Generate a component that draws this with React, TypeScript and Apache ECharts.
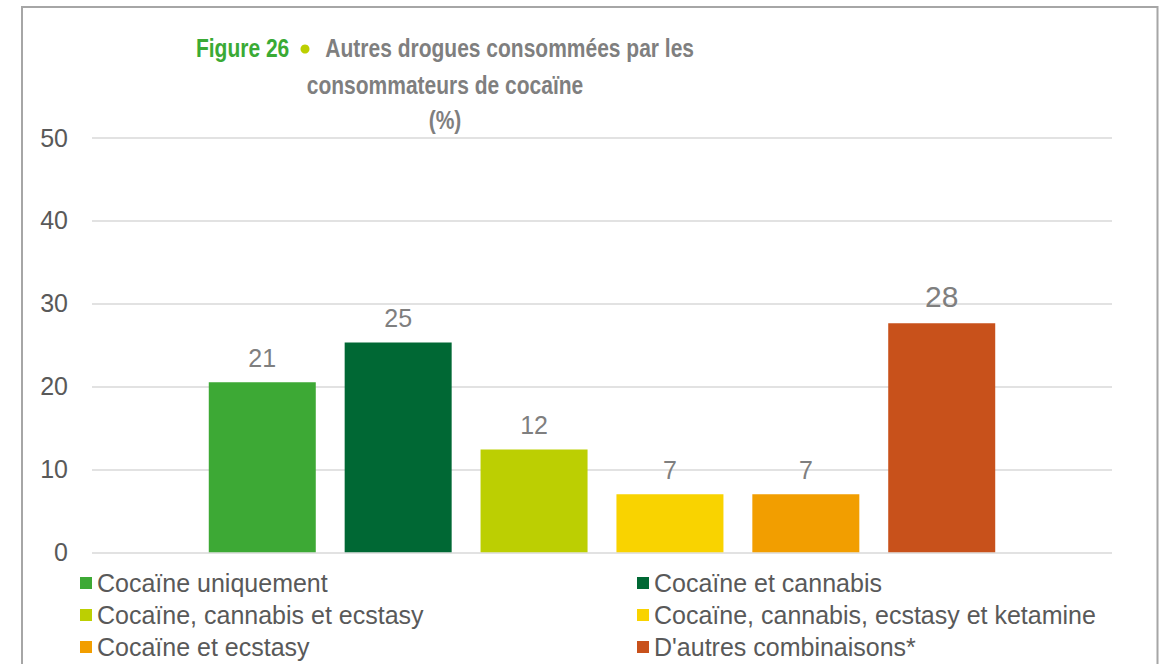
import React, { useEffect, useRef } from "react";
import * as echarts from "echarts";

const categories = [""];
const seriesNames = [
  "Cocaïne uniquement",
  "Cocaïne et cannabis",
  "Cocaïne, cannabis et ecstasy",
  "Cocaïne, cannabis, ecstasy et ketamine",
  "Cocaïne et ecstasy",
  "D'autres combinaisons*",
];
const seriesValues = [20.5, 25.3, 12.4, 7.0, 7.0, 27.6];
const seriesColors = ["#3da935", "#006834", "#bccf02", "#f9d300", "#f29e00", "#c8511b"];
const labelSizes = [25, 25, 25, 25, 25, 30];
const yMin = 0;
const yMax = 50;
const yInterval = 10;

const titleLine1Green = "Figure 26";
const titleLine1Gray = "Autres drogues consommées par les";
const titleLine2 = "consommateurs de cocaïne";
const titleLine3 = "(%)";

const FONT = "Arial, 'Liberation Sans', sans-serif";

export default function App() {
  const ref = useRef<HTMLDivElement>(null);
  useEffect(() => {
    document.body.style.margin = "0";
    if (!ref.current) return;
    const chart = echarts.init(ref.current, null, { renderer: "svg" });
    const series = seriesNames.map((name, i) => ({
      name,
      type: "bar",
      data: [seriesValues[i]],
      barWidth: 107,
      barGap: "27%",
      itemStyle: { color: seriesColors[i] },
      label: {
        show: true,
        position: "top",
        distance: 12,
        color: "#7f7f7f",
        fontSize: labelSizes[i],
        fontFamily: FONT,
        formatter: (p: any) => String(Math.round(p.value)),
      },
    }));
    const legendCols = [80, 637];
    const legendRows = [570, 602, 634];
    const legends = seriesNames.map((name, i) => ({
      orient: "horizontal",
      left: legendCols[i % 2],
      top: legendRows[Math.floor(i / 2)],
      itemWidth: 12,
      itemHeight: 12,
      icon: "rect",
      selectedMode: false,
      padding: 0,
      data: [name],
      textStyle: { fontSize: 25, color: "#595959", lineHeight: 26, fontFamily: FONT },
    }));
    const titleText = (y: number, text: string, rich?: any) => ({
      type: "text",
      x: 445,
      y,
      scaleY: 1.2,
      style: {
        text,
        align: "center",
        verticalAlign: "middle",
        fontSize: 21,
        fontWeight: "bold",
        fill: "#7f7f7f",
        fontFamily: FONT,
        rich,
      },
    });
    chart.setOption({
      animation: false,
      backgroundColor: "#ffffff",
      grid: { left: 92, right: 54, top: 137.5, bottom: 111.7, containLabel: false },
      xAxis: {
        type: "category",
        data: categories,
        axisLine: { show: false },
        axisTick: { show: false },
        axisLabel: { show: false },
      },
      yAxis: {
        type: "value",
        min: yMin,
        max: yMax,
        interval: yInterval,
        axisLine: { show: false },
        axisTick: { show: false },
        axisLabel: { color: "#595959", fontSize: 25, fontFamily: FONT, margin: 24 },
        splitLine: { lineStyle: { color: "#d9d9d9", width: 1.5 } },
      },
      legend: legends,
      series,
      graphic: [
        {
          type: "rect",
          shape: { x: 22, y: 7, width: 1135.5, height: 720 },
          style: { fill: "none", stroke: "#a6a6a6", lineWidth: 2 },
          silent: true,
        },
        titleText(48, `{g|${titleLine1Green}}{d| }{t|${titleLine1Gray}}`, {
          g: { fontSize: 21, fontWeight: "bold", fill: "#3aaa35", fontFamily: FONT },
          d: { fontSize: 21, width: 36, fontFamily: FONT },
          t: { fontSize: 21, fontWeight: "bold", fill: "#7f7f7f", fontFamily: FONT },
        }),
        {
          type: "circle",
          shape: { cx: 305, cy: 49, r: 4.5 },
          style: { fill: "#bccf00" },
          silent: true,
        },
        titleText(85, titleLine2),
        titleText(120, titleLine3),
      ],
    });
    return () => chart.dispose();
  }, []);
  return <div ref={ref} style={{ width: 1166, height: 664 }} />;
}
